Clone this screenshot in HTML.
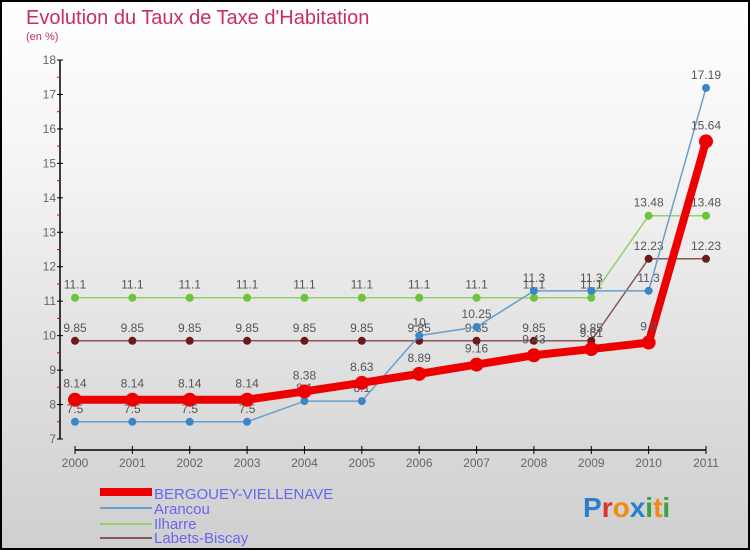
<!DOCTYPE html>
<html><head><meta charset="utf-8"><style>
html,body{margin:0;padding:0;}
body{width:750px;height:550px;overflow:hidden;font-family:"Liberation Sans",sans-serif;}
#wrap{position:relative;width:746px;height:546px;border:2px solid #000;background:linear-gradient(#fff,#f4f4f4 30%,#dedede 70%,#cfcfcf);}
svg{position:absolute;left:-2px;top:-2px;}
text{font-family:"Liberation Sans",sans-serif;}
</style></head><body>
<div id="wrap">
<svg id="chart" width="750" height="550">
<text x="26" y="24" font-size="20" fill="#c8305a">Evolution du Taux de Taxe d'Habitation</text>
<text x="26" y="40" font-size="11" fill="#c8305a">(en %)</text>
<g id="axes"></g><g id="series"></g>
<g>
<rect x="100" y="488" width="52" height="8" fill="#e00"/>
<text x="154" y="499" font-size="15" fill="#6666ee">BERGOUEY-VIELLENAVE</text>
<rect x="100" y="507" width="52" height="2" fill="#6a9fca"/>
<text x="154" y="514" font-size="15" fill="#6666ee">Arancou</text>
<rect x="100" y="523" width="52" height="2" fill="#8fd36b"/>
<text x="154" y="529" font-size="15" fill="#6666ee">Ilharre</text>
<rect x="100" y="537" width="52" height="2" fill="#8a5858"/>
<text x="154" y="543" font-size="15" fill="#6666ee">Labets-Biscay</text>
</g>
<text x="583" y="517" font-size="28" font-weight="bold"><tspan fill="#2a7fd0">P</tspan><tspan fill="#e0302a">r</tspan><tspan fill="#f08a10">o</tspan><tspan fill="#2a7fd0">x</tspan><tspan fill="#3aa040">i</tspan><tspan fill="#f08a10">t</tspan><tspan fill="#3aa040">i</tspan></text>
</svg></div>
<script>
const years=["2000","2001","2002","2003","2004","2005","2006","2007","2008","2009","2010","2011"];
const bergouey=[8.14,8.14,8.14,8.14,8.38,8.63,8.89,9.16,9.43,9.61,9.8,15.64];
const arancou=[7.5,7.5,7.5,7.5,8.1,8.1,10,10.25,11.3,11.3,11.3,17.19];
const ilharre=[11.1,11.1,11.1,11.1,11.1,11.1,11.1,11.1,11.1,11.1,13.48,13.48];
const labets=[9.85,9.85,9.85,9.85,9.85,9.85,9.85,9.85,9.85,9.85,12.23,12.23];
const yTicks=[7,8,9,10,11,12,13,14,15,16,17,18];
const NS="http://www.w3.org/2000/svg";
const X=i=>75+i*(631/11);
const Y=v=>439-(v-7)*(379/11);
function mk(tag,attrs,parent){const e=document.createElementNS(NS,tag);for(const k in attrs)e.setAttribute(k,attrs[k]);parent.appendChild(e);return e;}
const ax=document.getElementById('axes');
let l=mk('line',{x1:60,y1:Y(18),x2:60,y2:Y(7),stroke:'#000','stroke-width':1.5},ax);


yTicks.forEach(v=>{
 mk('line',{x1:57,y1:Y(v),x2:63,y2:Y(v),stroke:'#000'},ax);
 if(v<18){mk('line',{x1:57,y1:Y(v+0.5),x2:60,y2:Y(v+0.5),stroke:'#e00'},ax);}
 const t=mk('text',{x:56,y:Y(v)+4,'font-size':12,fill:'#666','text-anchor':'end'},ax);
 t.textContent=v;
 
 
});
let xl=mk('line',{x1:75,y1:450,x2:706,y2:450,stroke:'#000','stroke-width':1.5},ax);


years.forEach((y,i)=>{
 mk('line',{x1:X(i),y1:446,x2:X(i),y2:454,stroke:'#000'},ax);
 const t=mk('text',{x:X(i),y:467,'font-size':12,fill:'#666','text-anchor':'middle'},ax);
 t.textContent=y;
 
 
});
const sg=document.getElementById('series');
function draw(vals,name,color,dot,w,r){
 const g=mk('g',{},sg);
 
 
 const p=mk('polyline',{points:vals.map((v,i)=>X(i)+','+Y(v)).join(' '),fill:'none',stroke:color,'stroke-width':w},g);
 
 
 vals.forEach((v,i)=>{
  const c=mk('circle',{cx:X(i),cy:Y(v),r:r,fill:dot},g);
  
  
  const t=mk('text',{x:X(i),y:Y(v)-(r+5),'font-size':12,fill:'#555','text-anchor':'middle'},g);
  t.textContent=String(v);
  
  
 });
}
draw(ilharre,'ilharre','#8fd36b','#6cc43a',1.5,4);
draw(labets,'labets','#8a5858','#6a1a1a',1.5,4);
draw(arancou,'arancou','#6a9fca','#3a86c6',1.5,4);
draw(bergouey,'bergouey','#e00','#e00',8,7);
</script>
</body></html>
